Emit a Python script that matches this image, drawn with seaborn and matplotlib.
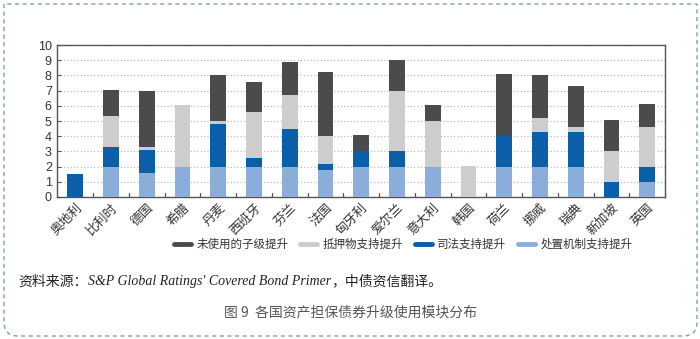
import numpy as np
import pandas as pd
import seaborn as sns
import matplotlib
matplotlib.use("Agg")
import matplotlib.pyplot as plt
from matplotlib.lines import Line2D
from matplotlib.path import Path
from matplotlib.patches import PathPatch

countries = ["奥地利", "比利时", "德国", "希腊", "丹麦", "西班牙", "芬兰", "法国", "匈牙利",
             "爱尔兰", "意大利", "韩国", "荷兰", "挪威", "瑞典", "新加坡", "英国"]
# stacked components, bottom to top
resolution = [0.0, 2.0, 1.6, 2.0, 2.0, 2.0, 2.0, 1.8, 2.0, 2.0, 2.0, 0.0, 2.0, 2.0, 2.0, 0.0, 1.0]
jurisdiction = [1.5, 1.3, 1.5, 0.0, 2.8, 0.55, 2.5, 0.4, 1.0, 1.0, 0.0, 0.0, 2.0, 2.25, 2.3, 1.0, 1.0]
collateral = [0.0, 2.0, 0.2, 4.05, 0.2, 3.05, 2.2, 1.8, 0.0, 4.0, 3.0, 2.05, 0.0, 0.95, 0.3, 2.0, 2.6]
unused = [0.0, 1.75, 3.7, 0.0, 3.0, 1.95, 2.2, 4.2, 1.05, 2.05, 1.05, 0.0, 4.1, 2.85, 2.7, 2.05, 1.5]

series_names = ["处置机制支持提升", "司法支持提升", "抵押物支持提升", "未使用的子级提升"]
colors = ["#8badd9", "#0a5fa8", "#cdcdcd", "#4b4b4d"]

sns.set_theme(style="white")
plt.rcParams["font.family"] = ["Noto Sans CJK SC", "DejaVu Sans"]

df = pd.DataFrame({"country": countries,
                   series_names[0]: resolution,
                   series_names[1]: jurisdiction,
                   series_names[2]: collateral,
                   series_names[3]: unused})
cum = df[series_names].cumsum(axis=1)

fig = plt.figure(figsize=(7.0, 3.39), dpi=100)
ax = fig.add_axes([0.082, 0.419, 0.868, 0.448])

# draw cumulative totals from the top layer down so lower layers sit in front
for name, col in reversed(list(zip(series_names, colors))):
    sns.barplot(x=df["country"], y=cum[name], color=col, width=0.44,
                saturation=1, ax=ax, linewidth=0, zorder=3)

ax.set_ylim(0, 10)
ax.set_xlim(-0.5, len(countries) - 0.5)
ax.set_yticks(range(0, 11))
ax.yaxis.grid(True, linestyle=(0, (1, 2)), color="#b5b5b5", linewidth=0.8, zorder=0)
ax.set_xlabel("")
ax.set_ylabel("")
for s in ax.spines.values():
    s.set_color("#555555")
    s.set_linewidth(1.0)
    s.set_visible(True)

ax.tick_params(axis="y", direction="in", length=3, width=0.8, color="#555555",
               labelsize=9, labelcolor="#333333", pad=4, left=True)
for lab in ax.get_yticklabels():
    lab.set_family(["Liberation Sans"])
ax.set_xticks(range(len(countries)))
ax.set_xticklabels(countries, rotation=45, ha="right", rotation_mode="anchor",
                   fontsize=9.2, color="#333333")
ax.tick_params(axis="x", length=0, pad=3)
# category separator ticks on the baseline
for b in np.arange(0.5, len(countries) - 0.5, 1.0):
    ax.plot([b, b], [0, 0.28], color="#555555", linewidth=0.9, zorder=4, clip_on=False)

handles = [Line2D([0], [0], color=c, linewidth=3.5) for c in reversed(colors)]
fig.legend(handles, list(reversed(series_names)), loc="center", ncol=4,
           bbox_to_anchor=(0.576, 0.28), frameon=False, fontsize=8.3,
           handlelength=1.5, columnspacing=1.0, handletextpad=0.45,
           labelcolor="#333333")

# source line in mixed fonts
fig.canvas.draw()
renderer = fig.canvas.get_renderer()
x0, ypos = 0.026, 0.17
parts = [("资料来源：", dict(family=["Noto Sans CJK SC"], style="normal")),
         ("S&P Global Ratings' Covered Bond Primer", dict(family=["Liberation Serif"], style="italic")),
         ("，中债资信翻译。", dict(family=["Noto Sans CJK SC"], style="normal"))]
xcur = x0
for txt, kw in parts:
    t = fig.text(xcur, ypos, txt, fontsize=10, color="#222222", va="center", ha="left", **kw)
    bb = t.get_window_extent(renderer=renderer)
    xcur += bb.width / fig.bbox.width

fig.text(0.5, 0.078, "图 9  各国资产担保债券升级使用模块分布", fontsize=10, color="#555555",
         ha="center", va="center")

# dashed outer frame, square top corners and rounded bottom corners
W, H = 700.0, 339.0
l, r, t_, b_ = 4 / W, 697 / W, 1 - 4 / H, 1 - 336 / H
rx, ry = 14 / W, 14 / H
verts = [(l, t_), (l, b_ + ry), (l, b_), (l + rx, b_), (r - rx, b_), (r, b_), (r, b_ + ry), (r, t_), (l, t_)]
codes = [Path.MOVETO, Path.LINETO, Path.CURVE3, Path.CURVE3, Path.LINETO, Path.CURVE3, Path.CURVE3,
         Path.LINETO, Path.LINETO]
frame = PathPatch(Path(verts, codes), transform=fig.transFigure, fill=False,
                  edgecolor="#7fa3a3", linewidth=1.0, linestyle=(0, (3, 2.5)))
fig.patches.append(frame)

fig.savefig("out.png", dpi=100)
